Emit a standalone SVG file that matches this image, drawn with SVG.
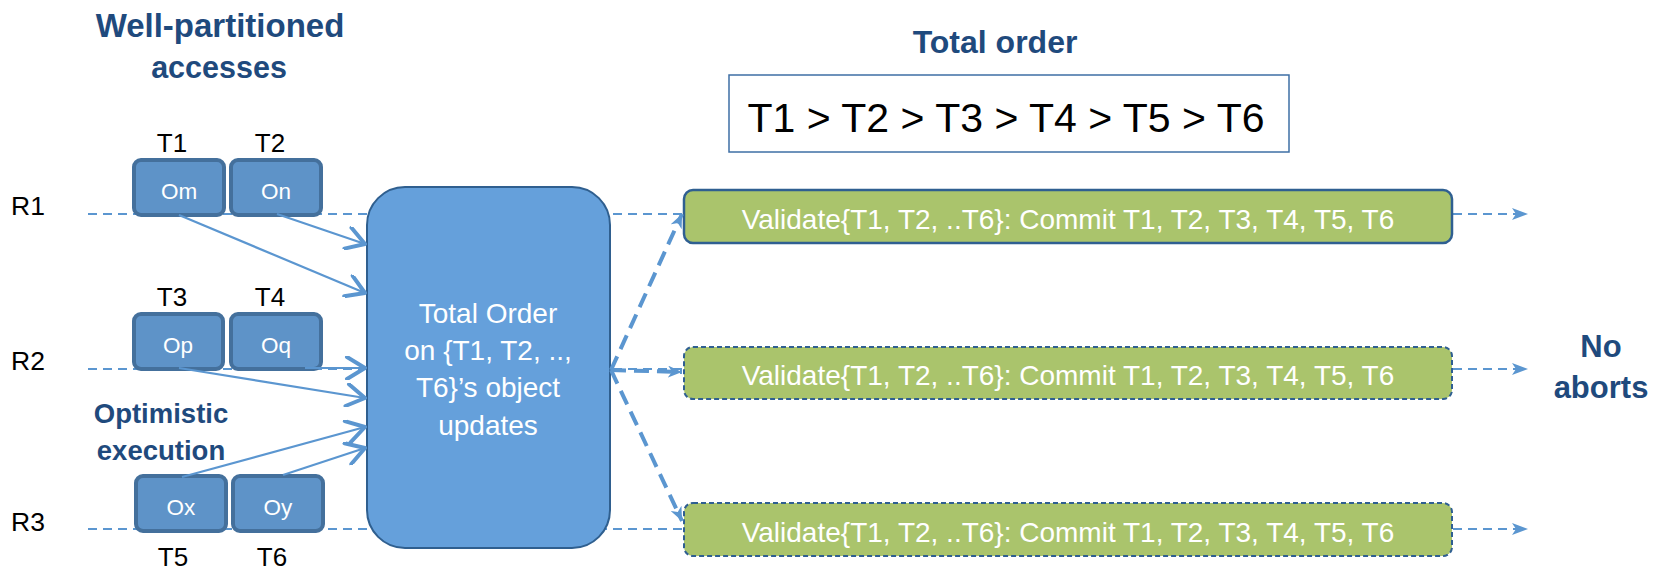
<svg xmlns="http://www.w3.org/2000/svg" width="1665" height="569" viewBox="0 0 1665 569">
  <style>
    text { font-family: "Liberation Sans", Arial, sans-serif; }
    .title { font-weight: bold; fill: #1F4A7D; text-anchor: middle; }
    .lbl { fill: #000; font-size: 26px; text-anchor: middle; }
    .obj rect { fill: #5E93C8; stroke: #44709C; stroke-width: 4; }
    .obj text { fill: #fff; font-size: 22.5px; text-anchor: middle; }
    .lane { fill: none; stroke: #5B96D0; stroke-width: 2; stroke-dasharray: 9 6; }
    .feed { fill: none; stroke: #5B96D0; stroke-width: 2.2; }
    .fan { fill: none; stroke: #5B96D0; stroke-width: 4; stroke-dasharray: 15 8; }
    .val rect { fill: #AAC46C; stroke: #2F5F91; stroke-width: 2.5; }
    .val.pending rect { stroke-width: 2; stroke-dasharray: 5 3; }
    .val text { fill: #fff; font-size: 28px; text-anchor: middle; }
  </style>
  <defs>
    <marker id="chevron" markerUnits="userSpaceOnUse" viewBox="0 0 26 24" markerWidth="26" markerHeight="24" refX="22" refY="12" orient="auto">
      <path d="M4,1 L22,12 L4,23" fill="none" stroke="#5B96D0" stroke-width="4" stroke-linecap="round" stroke-linejoin="round"/>
    </marker>
    <marker id="stealth" markerUnits="userSpaceOnUse" viewBox="0 0 16 12" markerWidth="16" markerHeight="12" refX="16" refY="6" orient="auto">
      <path d="M0,0 L16,6 L0,12 L4,6 z" fill="#5B96D0"/>
    </marker>
    <marker id="stealth-sm" markerUnits="userSpaceOnUse" viewBox="0 0 14 12" markerWidth="14" markerHeight="12" refX="14" refY="6" orient="auto">
      <path d="M0,0 L14,6 L0,12 L4,6 z" fill="#5B96D0"/>
    </marker>
  </defs>

  <rect width="1665" height="569" fill="#fff"/>

  <!-- replica lanes -->
  <g id="lanes">
    <path class="lane" d="M88,214 L1528,214" marker-end="url(#stealth)"/>
    <path class="lane" d="M88,369 L1528,369" marker-end="url(#stealth)"/>
    <path class="lane" d="M88,529 L1528,529" marker-end="url(#stealth)"/>
  </g>

  <!-- headings -->
  <text class="title" x="220" y="37" font-size="33">Well-partitioned</text>
  <text class="title" x="219" y="78" font-size="30.5">accesses</text>
  <text class="title" x="161" y="423" font-size="27.5">Optimistic</text>
  <text class="title" x="161" y="460" font-size="27.5">execution</text>
  <text class="title" x="995" y="53" font-size="32">Total order</text>
  <text class="title" x="1601" y="357" font-size="31">No</text>
  <text class="title" x="1601" y="398" font-size="31">aborts</text>

  <!-- replica labels -->
  <g id="replicas">
    <text x="11" y="215" font-size="26.5" fill="#000">R1</text>
    <text x="11" y="370" font-size="26.5" fill="#000">R2</text>
    <text x="11" y="531" font-size="26.5" fill="#000">R3</text>
  </g>

  <!-- transaction labels -->
  <g id="tx-labels">
    <text class="lbl" x="172" y="152">T1</text>
    <text class="lbl" x="270" y="152">T2</text>
    <text class="lbl" x="172" y="306">T3</text>
    <text class="lbl" x="270" y="306">T4</text>
    <text class="lbl" x="173" y="566">T5</text>
    <text class="lbl" x="272" y="566">T6</text>
  </g>

  <!-- object accesses -->
  <g id="om" class="obj"><rect x="134" y="160" width="90" height="55" rx="7"/><text x="179" y="199">Om</text></g>
  <g id="on" class="obj"><rect x="231" y="160" width="90" height="55" rx="7"/><text x="276" y="199">On</text></g>
  <g id="op" class="obj"><rect x="134" y="314" width="89" height="55" rx="7"/><text x="178" y="353">Op</text></g>
  <g id="oq" class="obj"><rect x="231" y="314" width="90" height="55" rx="7"/><text x="276" y="353">Oq</text></g>
  <g id="ox" class="obj"><rect x="136" y="476" width="90" height="55" rx="7"/><text x="181" y="515">Ox</text></g>
  <g id="oy" class="obj"><rect x="233" y="476" width="90" height="55" rx="7"/><text x="278" y="515">Oy</text></g>

  <!-- ordering service -->
  <g id="total-order">
    <rect x="367" y="187" width="243" height="361" rx="38" fill="#65A0DB" stroke="#2F5F8F" stroke-width="2"/>
    <g fill="#fff" font-size="28" text-anchor="middle">
      <text x="488" y="323">Total Order</text>
      <text x="488" y="360">on {T1, T2, ..,</text>
      <text x="488" y="397">T6}’s object</text>
      <text x="488" y="435">updates</text>
    </g>
  </g>

  <!-- agreed order -->
  <g id="order">
    <rect x="729" y="75" width="560" height="77" fill="#fff" stroke="#3E6FA5" stroke-width="1.5"/>
    <text x="1006" y="132" font-size="41" fill="#000" text-anchor="middle">T1 &gt; T2 &gt; T3 &gt; T4 &gt; T5 &gt; T6</text>
  </g>

  <!-- validation on each replica -->
  <g id="validate-r1" class="val"><rect x="684" y="190" width="768" height="53" rx="9"/><text x="1068" y="229">Validate{T1, T2, ..T6}: Commit T1, T2, T3, T4, T5, T6</text></g>
  <g id="validate-r2" class="val pending"><rect x="684" y="347" width="768" height="52" rx="9"/><text x="1068" y="385">Validate{T1, T2, ..T6}: Commit T1, T2, T3, T4, T5, T6</text></g>
  <g id="validate-r3" class="val pending"><rect x="684" y="503" width="768" height="53" rx="9"/><text x="1068" y="542">Validate{T1, T2, ..T6}: Commit T1, T2, T3, T4, T5, T6</text></g>

  <!-- connectors -->
  <g id="connectors">
    <path class="feed" d="M179,215 L365,293" marker-end="url(#chevron)"/>
    <path class="feed" d="M277,214 L365,244" marker-end="url(#chevron)"/>
    <path class="feed" d="M179,368 L365,398" marker-end="url(#chevron)"/>
    <path class="feed" d="M305,368 L365,368" marker-end="url(#chevron)"/>
    <path class="feed" d="M182,477 L365,427" marker-end="url(#chevron)"/>
    <path class="feed" d="M283,475 L365,448" marker-end="url(#chevron)"/>
    <path class="fan" d="M611,370 L682,214" marker-end="url(#stealth-sm)"/>
    <path class="fan" d="M611,370 L682,372" marker-end="url(#stealth-sm)"/>
    <path class="fan" d="M611,370 L682,521" marker-end="url(#stealth-sm)"/>
  </g>
</svg>
